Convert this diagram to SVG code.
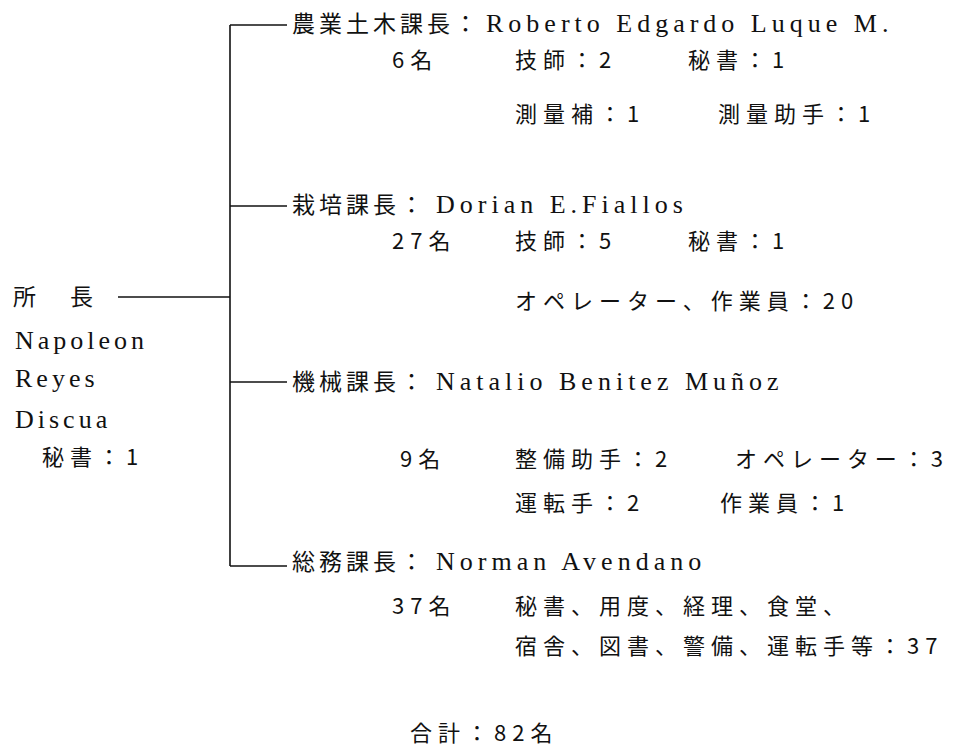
<svg xmlns="http://www.w3.org/2000/svg" width="957" height="756" viewBox="0 0 957 756">
<style>
.h{font-family:"Noto Sans CJK JP","Noto Sans",sans-serif;font-size:23px;letter-spacing:4px;fill:#111}
.b{font-family:"Noto Sans CJK JP","Noto Sans",sans-serif;font-size:22px;letter-spacing:6px;fill:#111}
.l{font-family:"Liberation Serif","DejaVu Serif",serif;font-size:26px;letter-spacing:5px;fill:#111}
.n{font-family:"Liberation Serif","DejaVu Serif",serif;font-size:26px;letter-spacing:4px;fill:#111}
.c{stroke:#111;stroke-width:1.6;fill:none}
</style>
<rect width="957" height="756" fill="#fff"/>
<g id="connectors" class="c">
<path d="M230,25 V566"/>
<path d="M230,25 H287"/>
<path d="M230,206 H287"/>
<path d="M230,382 H287"/>
<path d="M230,566 H287"/>
<path d="M118,297 H230"/>
</g>
<g id="director">
<text class="h" x="13" y="305">所<tspan x="70">長</tspan></text>
<text class="n" x="15" y="349">Napoleon</text>
<text class="n" x="15" y="387">Reyes</text>
<text class="n" x="15" y="428">Discua</text>
<text class="b" x="42" y="465">秘書：1</text>
</g>
<g id="agri-civil">
<text class="h" x="292" y="32">農業土木課長：</text>
<text class="l" x="486" y="32">Roberto Edgardo Luque M.</text>
<text class="b" x="392" y="68">6名</text>
<text class="b" x="515" y="68">技師：2</text>
<text class="b" x="688" y="68">秘書：1</text>
<text class="b" x="515" y="122">測量補：1</text>
<text class="b" x="718" y="122">測量助手：1</text>
</g>
<g id="cultivation">
<text class="h" x="292" y="213">栽培課長：</text>
<text class="l" x="436" y="213">Dorian E.Fiallos</text>
<text class="b" x="392" y="249">27名</text>
<text class="b" x="515" y="249">技師：5</text>
<text class="b" x="688" y="249">秘書：1</text>
<text class="b" x="515" y="309">オペレーター、作業員：20</text>
</g>
<g id="machinery">
<text class="h" x="292" y="390">機械課長：</text>
<text class="l" x="436" y="390">Natalio Benitez Muñoz</text>
<text class="b" x="400" y="467">9名</text>
<text class="b" x="515" y="467">整備助手：2</text>
<text class="b" x="735" y="467" textLength="214" lengthAdjust="spacing">オペレーター：3</text>
<text class="b" x="515" y="511">運転手：2</text>
<text class="b" x="720" y="511">作業員：1</text>
</g>
<g id="general-affairs">
<text class="h" x="292" y="570">総務課長：</text>
<text class="l" x="436" y="570">Norman Avendano</text>
<text class="b" x="392" y="614">37名</text>
<text class="b" x="515" y="614">秘書、用度、経理、食堂、</text>
<text class="b" x="515" y="654">宿舎、図書、警備、運転手等：37</text>
</g>
<g id="total">
<text class="b" x="410" y="741">合計：82名</text>
</g>
</svg>
